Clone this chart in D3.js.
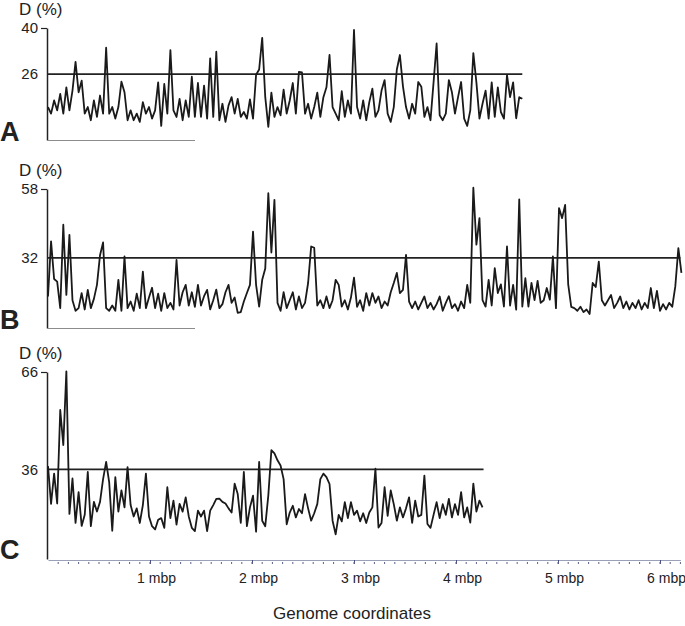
<!DOCTYPE html>
<html>
<head>
<meta charset="utf-8">
<script src="https://cdn.jsdelivr.net/npm/d3@7"></script>
<style>
  body { margin: 0; background: #fff; }
  text { font-family: Arial, "Liberation Sans", Helvetica, sans-serif; fill: #222; }
</style>
</head>
<body>
<div id="chart"></div>
<script>
// sliding-window divergence D (%) along the genome, one window every 30 kbp
var step = 0.03;
var panelNames = ["A", "B", "C"];
var thresholds = [26, 32, 36];
var yMaxes = [40, 58, 66];
var yMins = [6, 5.5, 8.4];
var genomeEnds = [4.65, 6.2, 4.27];   // mbp, where the threshold line stops
var xTicks = [1, 2, 3, 4, 5, 6];

var dA = [16, 14, 18, 15, 20, 14, 22, 15, 21, 29.7,
  20.5, 24, 14, 16, 12, 18, 13, 19.5, 14, 34,
  14, 16, 12.5, 16, 23.7, 20.5, 12, 15, 12, 14,
  11.5, 17.5, 14, 16, 12.5, 15, 23.5, 10.3, 23, 14,
  33.3, 15, 13, 18.5, 12, 18, 13, 25.2, 13, 23.3,
  13, 22.5, 12.5, 30.8, 13, 32.8, 12, 17, 11.5, 16.5,
  19, 14, 18.5, 13, 14.5, 12.5, 18.3, 12.5, 25.8, 27.4,
  37, 19, 10, 20.4, 13, 16, 13.5, 21.3, 14, 18,
  23.3, 14, 26.7, 26.5, 14, 17, 12.5, 16, 20.4, 13,
  19, 22, 31.8, 16, 14, 12, 20.8, 13, 18, 14,
  39.4, 16, 12.5, 18, 12, 17.5, 21.6, 13, 15, 21,
  24.2, 14, 11.5, 16, 27.4, 31.8, 22.3, 16, 12.5, 17,
  14, 23.6, 22.2, 13, 16, 12, 23.5, 35.3, 13.5, 12,
  14, 24.2, 20.5, 14, 19, 23.6, 12.5, 10.3, 15, 32.4,
  23.5, 12.5, 17, 21, 12.5, 23.5, 13, 22, 14.5, 12.5,
  25.7, 19, 23.5, 12.6, 19, 18.5];

var dB = [17.4, 38.2, 24, 23, 13, 44.5, 18, 40.7, 16, 12,
  13, 18.7, 12.5, 19.9, 13, 16.5, 21.8, 33, 37.8, 13,
  12, 14, 12, 23.7, 12, 32.5, 13, 15.5, 12, 18.5,
  13, 26.8, 13, 17, 20.7, 13, 18.5, 12, 18.7, 13,
  15, 12.5, 31.2, 14, 19, 21.8, 14, 19, 13.5, 21.8,
  14, 17.5, 19.9, 12.5, 16, 20, 13, 14.5, 19, 21.8,
  15, 17, 11.2, 11.5, 15.5, 18.7, 21.8, 41.9, 21.8, 13.6,
  23.7, 28, 56.4, 34, 53.9, 15, 12, 19, 13, 16,
  19, 12.5, 17.4, 13, 15, 22.5, 36.3, 35.8, 14, 16,
  13, 17.4, 13, 16, 23.7, 21.8, 13.6, 16, 12.5, 17,
  24.5, 13.5, 16, 12, 18.7, 14, 18.7, 15, 17.4, 13,
  15.5, 14, 19, 22.5, 26.3, 18.7, 19.9, 33.1, 15.5, 13,
  15.5, 12.5, 15, 17.4, 13, 15, 12.5, 14.5, 17.4, 12,
  15, 17.5, 13, 14.5, 12, 15.5, 13, 21.8, 15, 58.5,
  37, 47, 16, 13.6, 23.7, 14, 28.1, 18.7, 22, 13.6,
  36.3, 14, 21.8, 12.4, 54.1, 13.6, 24.3, 13.6, 22.5, 16,
  23.3, 15, 16, 20.6, 16.2, 32.5, 13, 50.8, 47, 52,
  22, 13.5, 13, 12, 13.5, 11.5, 12.5, 10.8, 22.5, 21,
  30.6, 16, 14, 16, 18, 13, 15, 17.4, 13, 15.5,
  12.5, 15, 13, 16, 12.5, 15, 13, 20.6, 13, 19.5,
  12, 14.5, 12.5, 15, 13.5, 21.2, 35.7, 26.3];

var dC = [37, 25.4, 34.7, 25.5, 54.3, 43.5, 66.2, 22.3, 33.2, 19.5,
  29, 18.6, 22, 35.2, 18.5, 26, 23, 26, 33, 38.3,
  32, 17.1, 33.6, 23, 29.5, 24.3, 36.7, 25, 21.5, 24,
  19.5, 25, 34.7, 21.5, 18.5, 17.5, 20.5, 21, 18, 30.5,
  21, 26.4, 19, 25.4, 23, 27.4, 21.5, 18, 17, 23.3,
  21.5, 23.3, 17, 23.3, 25, 26.9, 27, 26, 25.5, 24,
  22.7, 31.6, 28.4, 19.5, 35.2, 18.5, 24.3, 27.9, 16.8, 38.3,
  20.2, 18.5, 28, 41.9, 40.9, 38.8, 37.2, 33, 19.1, 22.7,
  24.8, 21.2, 23.8, 22.5, 28.4, 24, 20.2, 22.5, 25.3, 33,
  34.7, 33.6, 31.5, 20.2, 16, 22, 20, 25.9, 21, 25.9,
  22, 23.3, 20, 22.5, 19.5, 22.7, 24.3, 36.2, 18.1, 19.5,
  30.5, 21.7, 29.5, 25.3, 20.2, 24.3, 21.2, 24, 27.4, 19.5,
  26.4, 21.5, 22, 34.1, 19.2, 18, 22, 25.9, 21, 25.3,
  22, 26.9, 21.2, 25.3, 22, 29, 21.2, 24.3, 19.6, 31.6,
  23, 26.4, 24.3];

var series = [dA, dB, dC];

var width = 685, height = 626;
var left = 47;
var panelTop = [28, 189, 372];
var panelBottom = [140, 328, 559];
var letterY = [141, 329, 559];

var svg = d3.select("#chart").append("svg")
  .attr("width", width)
  .attr("height", height);

var x = d3.scaleLinear().domain([0, 6.2]).range([48, 680.4]);

for (var p = 0; p < 3; p++) {
  var y = d3.scaleLinear().domain([yMins[p], yMaxes[p]]).range([panelBottom[p], panelTop[p]]);
  var g = svg.append("g");

  // y axis, ticks only at the threshold and the maximum
  var ax = g.append("g")
    .attr("transform", "translate(" + left + ",0)")
    .call(d3.axisLeft(y).tickValues([thresholds[p], yMaxes[p]]).tickSize(6).tickSizeOuter(0).tickPadding(3));
  ax.select(".domain").attr("stroke", "#222").attr("stroke-width", 1.5);
  ax.selectAll(".tick line").attr("stroke", "#222").attr("stroke-width", 1.2)
    .attr("x2", function(d) { return d == thresholds[p] ? 0 : -6; });
  ax.selectAll(".tick text")
    .style("font-size", "15px")
    .style("font-family", "Arial, 'Liberation Sans', sans-serif")
    .attr("fill", "#222");

  g.append("text")
    .attr("x", 19)
    .attr("y", panelTop[p] - 13)
    .style("font-size", "17px")
    .text("D (%)");

  g.append("text")
    .attr("x", 0)
    .attr("y", letterY[p])
    .style("font-size", "27px")
    .style("font-weight", "bold")
    .text(panelNames[p]);

  // threshold line
  g.append("line")
    .attr("x1", left)
    .attr("x2", x(genomeEnds[p]))
    .attr("y1", y(thresholds[p]))
    .attr("y2", y(thresholds[p]))
    .attr("stroke", "#222")
    .attr("stroke-width", 1.6);

  // short grey baseline under A and B
  if (p < 2) {
    g.append("line")
      .attr("x1", left)
      .attr("x2", 195)
      .attr("y1", panelBottom[p] + 0.5)
      .attr("y2", panelBottom[p] + 0.5)
      .attr("stroke", "#8c8c8c")
      .attr("stroke-width", 1);
  }

  var line = d3.line()
    .x(function(d, i) { return x(i * step); })
    .y(function(d) { return y(d); });

  g.append("path")
    .datum(series[p])
    .attr("d", line)
    .attr("fill", "none")
    .attr("stroke", "#1a1a1a")
    .attr("stroke-width", 1.8)
    .attr("stroke-linejoin", "round");
}

// genome axis
var axisY = 560;
var xa = svg.append("g")
  .attr("transform", "translate(0," + axisY + ")")
  .call(d3.axisBottom(x).tickValues(xTicks).tickSize(4).tickSizeOuter(0).tickPadding(9)
    .tickFormat(function(d) { return d + " mbp"; }));
xa.select(".domain").attr("stroke", "#9aa0b8").attr("stroke-width", 1);
xa.selectAll(".tick line").attr("stroke", "#4a5080");
xa.selectAll(".tick text")
  .attr("dx", 6)
  .style("font-size", "14px")
  .style("font-family", "Arial, 'Liberation Sans', sans-serif")
  .attr("fill", "#222");

svg.append("g").selectAll("line")
  .data(d3.range(1, 63).map(function(d) { return d / 10; }))
  .enter().append("line")
  .attr("x1", function(d) { return x(d); })
  .attr("x2", function(d) { return x(d); })
  .attr("y1", axisY + 2)
  .attr("y2", axisY + 4)
  .attr("stroke", "#5a6088")
  .attr("stroke-width", 1);

svg.append("text")
  .attr("x", 352)
  .attr("y", 619)
  .style("text-anchor", "middle")
  .style("font-size", "17px")
  .text("Genome coordinates");
</script>
</body>
</html>
